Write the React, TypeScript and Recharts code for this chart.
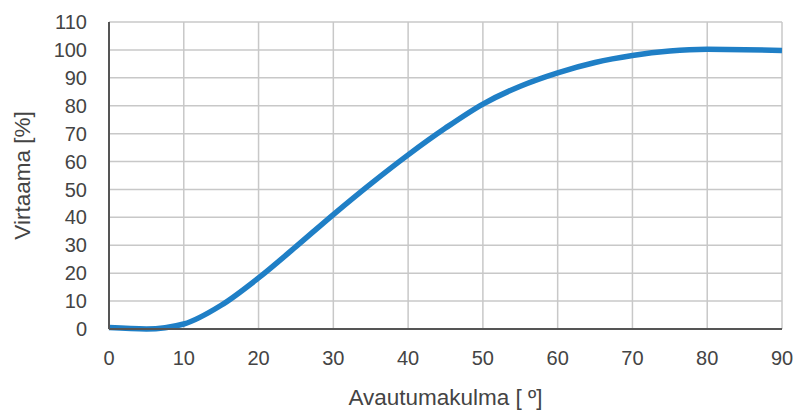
import React from "react";
import { LineChart, Line, XAxis, YAxis, CartesianGrid } from "recharts";

const angles = [0, 5, 10, 15, 20, 25, 30, 35, 40, 45, 50, 55, 60, 65, 70, 75, 80, 85, 90];
const flow = [0.5, 0, 1.8, 8.5, 18.3, 29.5, 41, 52, 62.4, 72, 80.6, 87, 91.8, 95.5, 98, 99.6, 100.2, 100.1, 99.8];
const xTicks = [0, 10, 20, 30, 40, 50, 60, 70, 80, 90];
const yTicks = [0, 10, 20, 30, 40, 50, 60, 70, 80, 90, 100, 110];

const data = angles.map((a, i) => ({ angle: a, flow: flow[i] }));

const font = "'Liberation Sans', Arial, sans-serif";
const tickStyle = { fontSize: 20, fill: "#444", fontFamily: font };

export default function App() {
  return (
    <div style={{ position: "absolute", left: 0, top: 0, width: 797, height: 410, background: "#fff" }}>
      <LineChart width={797} height={410} data={data} margin={{ top: 22, right: 15, bottom: 0, left: 0 }}>
        <CartesianGrid stroke="#c8c8c8" strokeWidth={1.5} />
        <XAxis
          dataKey="angle"
          type="number"
          domain={[0, 90]}
          ticks={xTicks}
          tickLine={false}
          tickSize={0}
          tickMargin={22}
          height={81}
          axisLine={{ stroke: "#555", strokeWidth: 2 }}
          tick={tickStyle}
          label={{ value: "Avautumakulma [ º]", position: "insideBottom", offset: 5, style: { fontSize: 22.5, fill: "#444", fontFamily: font } }}
        />
        <XAxis
          xAxisId="top"
          orientation="top"
          dataKey="angle"
          type="number"
          domain={[0, 90]}
          tick={false}
          tickLine={false}
          height={0}
          axisLine={{ stroke: "#555", strokeWidth: 2 }}
        />
        <YAxis
          type="number"
          domain={[0, 110]}
          ticks={yTicks}
          tickLine={false}
          tickSize={0}
          tickMargin={22}
          width={109}
          interval={0}
          axisLine={{ stroke: "#555", strokeWidth: 2 }}
          tick={tickStyle}
          label={{ value: "Virtaama [%]", angle: -90, position: "insideLeft", offset: 22, style: { fontSize: 22.5, fill: "#444", fontFamily: font, textAnchor: "middle" } }}
        />
        <YAxis
          yAxisId="right"
          orientation="right"
          type="number"
          domain={[0, 110]}
          tick={false}
          tickLine={false}
          width={0}
          axisLine={{ stroke: "#555", strokeWidth: 2 }}
        />
        <Line
          type="monotone"
          dataKey="flow"
          stroke="#1f7fc6"
          strokeWidth={5.5}
          dot={false}
          isAnimationActive={false}
        />
      </LineChart>
    </div>
  );
}
